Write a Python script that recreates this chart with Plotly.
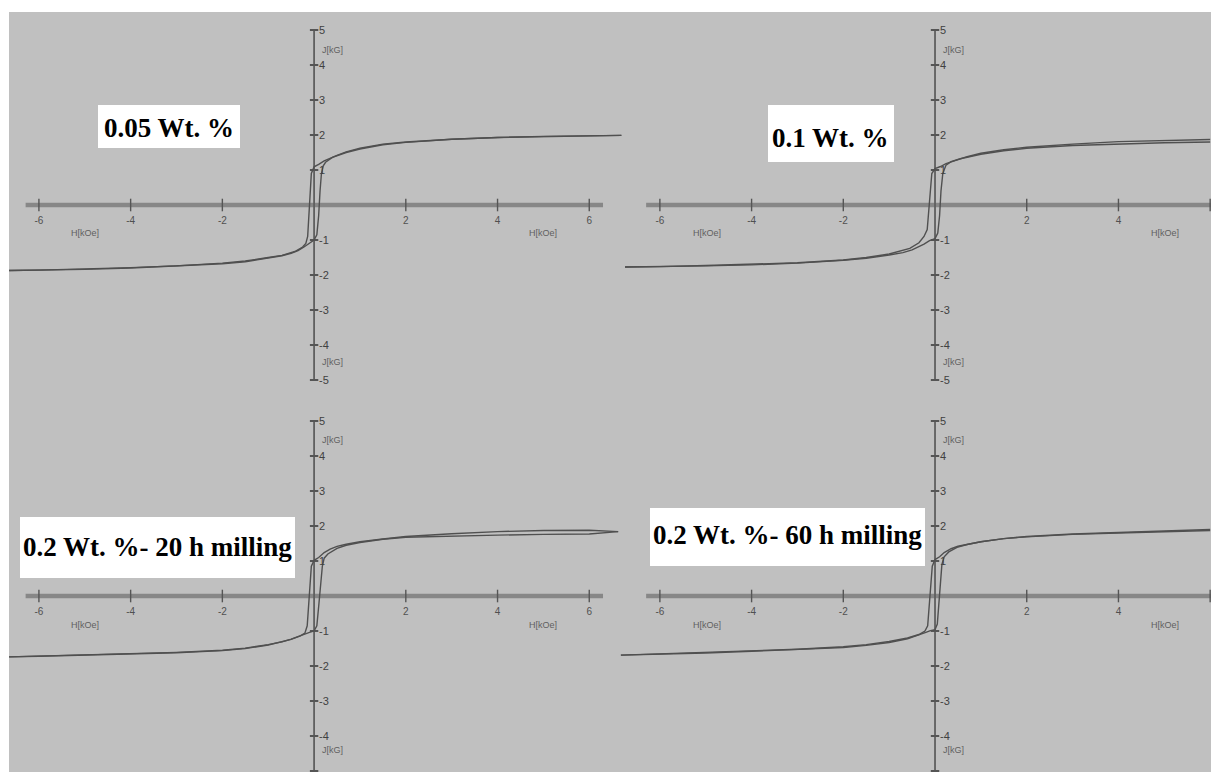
import plotly.graph_objects as go

# ---------------- data ----------------
H_TICKS = [-6, -4, -2, 2, 4, 6]
H_TICK_TEXT = ["-6", "-4", "-2", "2", "4", "6"]
J_TICKS = [5, 4, 3, 2, 1, -1, -2, -3, -4, -5]
J_TICK_TEXT = ["5", "4", "3", "2", "1", "-1", "-2", "-3", "-4", "-5"]
H_UNIT = "H[kOe]"
J_UNIT = "J[kG]"
PANEL_LABELS = ["0.05 Wt. %", "0.1 Wt. %", "0.2 Wt. %- 20 h milling", "0.2 Wt. %- 60 h milling"]

# panel 1 : 0.05 wt %
H1_desc = [6.7, 6.0, 5.0, 4.0, 3.0, 2.0, 1.5, 1.0, 0.7, 0.5, 0.35, 0.22, 0.1, 0.0, -0.06, -0.09, -0.11, -0.14,
           -0.18, -0.25, -0.4, -0.7, -1.0, -1.5, -2.0, -3.0, -4.0, -5.0, -6.0, -6.65]
J1_desc = [1.99, 1.98, 1.96, 1.93, 1.88, 1.8, 1.74, 1.62, 1.52, 1.42, 1.34, 1.26, 1.16, 1.09, 0.9, 0.3, -0.4, -0.9,
           -1.1, -1.2, -1.32, -1.44, -1.5, -1.6, -1.66, -1.74, -1.79, -1.83, -1.86, -1.87]
H1_asc = [-6.65, -6.0, -5.0, -4.0, -3.0, -2.0, -1.5, -1.0, -0.7, -0.5, -0.35, -0.22, -0.1, 0.0, 0.06, 0.1, 0.13, 0.16,
          0.2, 0.25, 0.4, 0.7, 1.0, 1.5, 2.0, 3.0, 4.0, 5.0, 6.0, 6.7]
J1_asc = [-1.87, -1.86, -1.84, -1.8, -1.75, -1.68, -1.62, -1.52, -1.45, -1.38, -1.3, -1.2, -1.08, -1.0, -0.85, -0.3,
          0.4, 0.9, 1.12, 1.22, 1.36, 1.5, 1.6, 1.72, 1.79, 1.88, 1.93, 1.96, 1.98, 1.99]

# panel 2 : 0.1 wt %
H2_desc = [6.0, 5.0, 4.0, 3.0, 2.0, 1.5, 1.0, 0.7, 0.5, 0.35, 0.24, 0.12, 0.0, -0.07, -0.1, -0.13, -0.17, -0.24,
           -0.35, -0.55, -0.8, -1.0, -1.5, -2.0, -3.0, -4.0, -5.0, -6.0, -6.76]
J2_desc = [1.87, 1.85, 1.81, 1.74, 1.65, 1.58, 1.48, 1.38, 1.3, 1.24, 1.18, 1.1, 1.04, 0.9, 0.4, -0.3, -0.7, -0.9,
           -1.08, -1.24, -1.34, -1.4, -1.5, -1.57, -1.65, -1.7, -1.73, -1.76, -1.77]
H2_asc = [-6.76, -6.0, -5.0, -4.0, -3.0, -2.0, -1.5, -1.0, -0.7, -0.5, -0.35, -0.24, -0.12, 0.0, 0.06, 0.1, 0.13,
          0.17, 0.24, 0.35, 0.55, 0.8, 1.0, 1.5, 2.0, 3.0, 4.0, 5.0, 6.0]
J2_asc = [-1.77, -1.76, -1.74, -1.71, -1.66, -1.58, -1.52, -1.43, -1.36, -1.28, -1.2, -1.12, -1.02, -0.96, -0.8,
          -0.3, 0.4, 0.9, 1.14, 1.24, 1.32, 1.4, 1.45, 1.55, 1.62, 1.7, 1.75, 1.78, 1.8]

# panel 3 : 0.2 wt % - 20 h milling
H3_desc = [6.63, 6.0, 5.0, 4.0, 3.0, 2.0, 1.5, 1.0, 0.7, 0.5, 0.35, 0.22, 0.1, 0.0, -0.06, -0.09, -0.12, -0.15,
           -0.2, -0.3, -0.5, -0.8, -1.0, -1.5, -2.0, -3.0, -4.0, -5.0, -6.0, -6.65]
J3_desc = [1.84, 1.88, 1.87, 1.84, 1.78, 1.7, 1.63, 1.55, 1.48, 1.42, 1.34, 1.24, 1.1, 1.02, 0.85, 0.3, -0.4, -0.85,
           -1.06, -1.14, -1.24, -1.34, -1.4, -1.5, -1.56, -1.62, -1.66, -1.69, -1.72, -1.74]
H3_asc = [-6.65, -6.0, -5.0, -4.0, -3.0, -2.0, -1.5, -1.0, -0.7, -0.5, -0.35, -0.2, -0.1, 0.0, 0.06, 0.1, 0.14, 0.18,
          0.22, 0.3, 0.5, 0.7, 1.0, 1.5, 2.0, 3.0, 4.0, 5.0, 6.0, 6.63]
J3_asc = [-1.74, -1.72, -1.69, -1.66, -1.61, -1.55, -1.49, -1.39, -1.31, -1.23, -1.16, -1.07, -1.04, -1.0, -0.85,
          -0.3, 0.4, 0.85, 1.08, 1.2, 1.36, 1.45, 1.53, 1.62, 1.68, 1.72, 1.74, 1.76, 1.77, 1.84]

# panel 4 : 0.2 wt % - 60 h milling
H4_desc = [6.0, 5.0, 4.0, 3.0, 2.0, 1.5, 1.0, 0.7, 0.5, 0.35, 0.2, 0.1, 0.0, -0.06, -0.09, -0.12, -0.16, -0.22,
           -0.35, -0.6, -1.0, -1.5, -2.0, -3.0, -4.0, -5.0, -6.0, -6.85]
J4_desc = [1.9, 1.86, 1.82, 1.77, 1.7, 1.64, 1.55, 1.48, 1.42, 1.35, 1.24, 1.12, 1.04, 0.85, 0.3, -0.4, -0.85, -1.0,
           -1.1, -1.2, -1.3, -1.39, -1.45, -1.52, -1.56, -1.61, -1.66, -1.69]
H4_asc = [-6.85, -6.0, -5.0, -4.0, -3.0, -2.0, -1.5, -1.0, -0.6, -0.35, -0.2, -0.1, 0.0, 0.05, 0.08, 0.11, 0.15, 0.2,
          0.3, 0.5, 0.7, 1.0, 1.5, 2.0, 3.0, 4.0, 5.0, 6.0]
J4_asc = [-1.69, -1.67, -1.63, -1.58, -1.53, -1.47, -1.41, -1.33, -1.22, -1.12, -1.04, -0.99, -0.96, -0.8, -0.3, 0.4,
          0.9, 1.12, 1.26, 1.4, 1.47, 1.55, 1.64, 1.69, 1.76, 1.8, 1.84, 1.87]

CURVES = [
    ((H1_desc, J1_desc), (H1_asc, J1_asc)),
    ((H2_desc, J2_desc), (H2_asc, J2_asc)),
    ((H3_desc, J3_desc), (H3_asc, J3_asc)),
    ((H4_desc, J4_desc), (H4_asc, J4_asc)),
]

# ---------------- layout (pixels) ----------------
W, HGT = 1211, 772
ML, MT = 9, 12
PW, PH = W - ML, HGT - MT
XU, YU = 46.0, 35.0  # pixels per kOe / per kG

def fx(px):
    return (px - ML) / PW

def fy(py):
    return 1 - (py - MT) / PH

PANELS = [
    dict(x0=9, x1=624, y0=12, y1=398, h0=315, j0=205, hl=(-6.29, 6.3),
         box=(98, 105, 240, 148), dy=1, hlab=(-5.0, 5.0), jlab=(4.43, -4.49), hly=-0.8),
    dict(x0=620, x1=1213, y0=12, y1=398, h0=936, j0=205, hl=(-6.3, 6.3),
         box=(768, 105, 894, 162), dy=4, hlab=(-4.98, 5.02), jlab=(4.43, -4.49), hly=-0.8),
    dict(x0=9, x1=624, y0=398, y1=772, h0=315, j0=596, hl=(-6.29, 6.3),
         box=(20, 517, 295, 578), dy=-1, hlab=(-5.0, 5.0), jlab=(4.46, -4.4), hly=-0.83),
    dict(x0=620, x1=1213, y0=398, y1=772, h0=936, j0=596, hl=(-6.3, 6.3),
         box=(650, 508, 925, 566), dy=-2, hlab=(-4.98, 5.02), jlab=(4.46, -4.4), hly=-0.83),
]

BG = "rgb(192,192,192)"
CURVE_COLOR = "rgb(80,80,80)"
XAXIS_COLOR = "rgb(135,135,135)"
YAXIS_COLOR = "rgb(95,95,95)"
TICK_COLOR = "rgb(85,85,85)"
NARROW = "Liberation Sans Narrow, Liberation Sans, Arial Narrow, sans-serif"

fig = go.Figure()
shapes = []
annotations = []
layout_axes = {}

for k, (p, curves, label) in enumerate(zip(PANELS, CURVES, PANEL_LABELS), start=1):
    xa = "x" if k == 1 else f"x{k}"
    ya = "y" if k == 1 else f"y{k}"
    xkey = "xaxis" if k == 1 else f"xaxis{k}"
    ykey = "yaxis" if k == 1 else f"yaxis{k}"

    # axis lines (drawn in data coordinates)
    shapes.append(dict(type="line", xref=xa, yref=ya, x0=p["hl"][0], x1=p["hl"][1], y0=0, y1=0,
                       line=dict(color=XAXIS_COLOR, width=4.5), layer="below"))
    shapes.append(dict(type="line", xref=xa, yref=ya, x0=0, x1=0, y0=J_TICKS[-1], y1=J_TICKS[0],
                       line=dict(color=YAXIS_COLOR, width=1.8), layer="below"))

    # tick marks
    fig.add_trace(go.Scatter(x=H_TICKS, y=[0] * len(H_TICKS), xaxis=xa, yaxis=ya, mode="markers",
                             marker=dict(symbol="line-ns", size=9, line=dict(width=1.4, color=TICK_COLOR)),
                             hoverinfo="skip", showlegend=False, cliponaxis=False))
    fig.add_trace(go.Scatter(x=[0] * len(J_TICKS), y=J_TICKS, xaxis=xa, yaxis=ya, mode="markers",
                             marker=dict(symbol="line-ew", size=6, line=dict(width=2, color=TICK_COLOR)),
                             hoverinfo="skip", showlegend=False, cliponaxis=False))

    # hysteresis branches
    for hx, jy in curves:
        fig.add_trace(go.Scatter(x=hx, y=jy, xaxis=xa, yaxis=ya, mode="lines",
                                 line=dict(color=CURVE_COLOR, width=1.4),
                                 hoverinfo="skip", showlegend=False))

    layout_axes[xkey] = dict(
        domain=[fx(p["x0"]), min(1.0, fx(p["x1"]))],
        range=[(p["x0"] - p["h0"]) / XU, (min(p["x1"], W) - p["h0"]) / XU + 0.04],
        anchor="free", position=fy(p["j0"]), side="bottom",
        showgrid=False, zeroline=False, showline=False, ticks="",
        tickmode="array", tickvals=H_TICKS, ticktext=H_TICK_TEXT,
        tickfont=dict(family=NARROW, size=10, color="rgb(80,80,80)"),
        ticklabelstandoff=8, fixedrange=True,
    )
    layout_axes[ykey] = dict(
        domain=[fy(p["y1"]), fy(p["y0"])],
        range=[(p["j0"] - p["y1"]) / YU, (p["j0"] - p["y0"]) / YU],
        anchor="free", position=fx(p["h0"]), side="right",
        showgrid=False, zeroline=False, showline=False, ticks="",
        tickmode="array", tickvals=J_TICKS, ticktext=J_TICK_TEXT,
        tickfont=dict(family=NARROW, size=11, color="rgb(65,65,65)"),
        ticklabelstandoff=3, fixedrange=True,
    )

    # unit labels
    for hx in p["hlab"]:
        annotations.append(dict(x=hx, y=p["hly"], xref=xa, yref=ya, text=H_UNIT, showarrow=False,
                                font=dict(family=NARROW, size=9, color="rgb(95,95,95)")))
    for jy in p["jlab"]:
        annotations.append(dict(x=0.41, y=jy, xref=xa, yref=ya, text=J_UNIT, showarrow=False,
                                font=dict(family=NARROW, size=9, color="rgb(95,95,95)")))

    # boxed panel label
    bx0, by0, bx1, by1 = p["box"]
    shapes.append(dict(type="rect", xref="paper", yref="paper", x0=fx(bx0), x1=fx(bx1), y0=fy(by1), y1=fy(by0),
                       fillcolor="white", line=dict(width=0), layer="above"))
    annotations.append(dict(x=fx((bx0 + bx1) / 2), y=fy((by0 + by1) / 2 + p["dy"]), xref="paper", yref="paper",
                            xanchor="center", yanchor="middle", text=f"<b>{label}</b>", showarrow=False,
                            font=dict(family="Liberation Serif, Times New Roman, serif", size=27, color="black")))

# white strips at the top and left edge of the picture
shapes.append(dict(type="rect", xref="paper", yref="paper", x0=-ML / PW, x1=1, y0=1, y1=1 + MT / PH,
                   fillcolor="white", line=dict(width=0), layer="above"))
shapes.append(dict(type="rect", xref="paper", yref="paper", x0=-ML / PW, x1=0, y0=0, y1=1 + MT / PH,
                   fillcolor="white", line=dict(width=0), layer="above"))

fig.update_layout(
    width=W, height=HGT,
    margin=dict(l=ML, r=0, t=MT, b=0, pad=0),
    paper_bgcolor=BG, plot_bgcolor="rgba(0,0,0,0)",
    showlegend=False, shapes=shapes, annotations=annotations,
    **layout_axes,
)

fig.write_html("out.html", config=dict(displayModeBar=False),
               post_script="document.body.style.margin='0px';document.body.style.overflow='hidden';")
